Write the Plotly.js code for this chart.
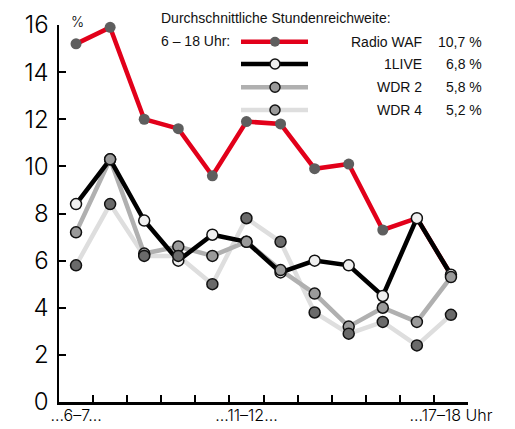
<!DOCTYPE html>
<html><head><meta charset="utf-8">
<script src="https://cdn.plot.ly/plotly-3.0.1.min.js"></script>
<style>html,body{margin:0;padding:0;background:#fff}#chart{width:515px;height:429px}</style>
</head><body><div id="chart"></div>
<script>
var hours = [0,1,2,3,4,5,6,7,8,9,10,11];
var tickLabels = ["...6–7...", "...11–12...", "...17–18 Uhr"];
var tickLabelPos = [0, 5, 11];
var radioWAF = [15.2, 15.9, 12.0, 11.6, 9.6, 11.9, 11.8, 9.9, 10.1, 7.3, 7.8, 5.4];
var einsLive = [8.4, 10.3, 7.7, 6.0, 7.1, 6.8, 5.5, 6.0, 5.8, 4.5, 7.8, 5.4];
var wdr2 = [7.2, 10.3, 6.3, 6.6, 6.2, 6.8, 5.6, 4.6, 3.2, 4.0, 3.4, 5.3];
var wdr4 = [5.8, 8.4, 6.2, 6.2, 5.0, 7.8, 6.8, 3.8, 2.9, 3.4, 2.4, 3.7];
var seriesNames = ["Radio WAF", "1LIVE", "WDR 2", "WDR 4"];
var seriesAvg = ["10,7 %", "6,8 %", "5,8 %", "5,2 %"];

var FONT = "Liberation Sans Narrow, Liberation Sans, Arial, sans-serif";
var TICKFONT = "Inter, DejaVu Sans, sans-serif";
var lineColors = ["#e2001a", "#000000", "#b0b0b0", "#dedede"];
var markerColors = ["#5e5e5e", "#f0f0f0", "#9a9a9a", "#6a6a6a"];
var markerLine = [0, 1.5, 1.5, 1.5];
var data = [radioWAF, einsLive, wdr2, wdr4];

var traces = [];
var lineOrder = [3, 2, 0, 1];
lineOrder.forEach(function(i){
  traces.push({x: hours, y: data[i], type: "scatter", mode: "lines", cliponaxis: false,
    line: {color: lineColors[i], width: 4.5}, hoverinfo: "skip", showlegend: false});
});
var markOrder = [0, 1, 2, 3];
markOrder.forEach(function(i){
  traces.push({x: hours, y: data[i], type: "scatter", mode: "markers", cliponaxis: false,
    marker: {color: markerColors[i], size: 11, line: {color: "#111", width: markerLine[i]}},
    showlegend: false});
});
traces.push({x: tickLabelPos, y: [null,null,null], xaxis: "x2", type: "scatter", mode: "markers", showlegend: false, hoverinfo: "skip"});

var L = 59, R = 468, T = 25, B = 402;
function px(x){ return (x - L) / (R - L); }
function py(y){ return (B - y) / (B - T); }

var annotations = [
  {xref: "paper", yref: "paper", x: px(69), y: py(22), text: "%", showarrow: false, xanchor: "left", yanchor: "middle", font: {family: TICKFONT, size: 14, color: "#000", weight: 300}},
  {xref: "paper", yref: "paper", x: px(159), y: py(18), text: "Durchschnittliche Stundenreichweite:", showarrow: false, xanchor: "left", yanchor: "middle", font: {family: FONT, size: 14, color: "#111"}},
  {xref: "paper", yref: "paper", x: px(159), y: py(41.5), text: "6 – 18 Uhr:", showarrow: false, xanchor: "left", yanchor: "middle", font: {family: FONT, size: 14, color: "#111"}}
];
var shapes = [];
var legY = [41.7, 64, 87.3, 110];
for (var i = 0; i < 4; i++) {
  annotations.push({xref: "paper", yref: "paper", x: px(424), y: py(legY[i]), text: seriesNames[i], showarrow: false, xanchor: "right", yanchor: "middle", font: {family: FONT, size: 14, color: "#111"}});
  annotations.push({xref: "paper", yref: "paper", x: px(484), y: py(legY[i]), text: seriesAvg[i], showarrow: false, xanchor: "right", yanchor: "middle", font: {family: FONT, size: 14, color: "#111"}});
  shapes.push({type: "line", xref: "paper", yref: "paper", x0: px(241), x1: px(308), y0: py(legY[i]), y1: py(legY[i]), line: {color: lineColors[i], width: 4.5}});
  shapes.push({type: "circle", xref: "paper", yref: "paper", x0: px(270), x1: px(280), y0: py(legY[i] + 5), y1: py(legY[i] - 5),
    fillcolor: i === 3 ? "#9a9a9a" : markerColors[i], line: {color: "#111", width: markerLine[i]}});
}

var layout = {
  width: 515, height: 429,
  margin: {l: L, r: 515 - R, t: T, b: 429 - B},
  paper_bgcolor: "#fff", plot_bgcolor: "#fff",
  showlegend: false,
  xaxis: {range: [-0.5, 11.5], tickmode: "array",
    tickvals: [-0.5,0.5,1.5,2.5,3.5,4.5,5.5,6.5,7.5,8.5,9.5,10.5,11.5],
    ticktext: ["","","","","","","","","","","","",""],
    ticks: "inside", ticklen: 7, tickwidth: 2, tickcolor: "#000",
    showline: true, linecolor: "#000", linewidth: 2.5, showgrid: false, zeroline: false, fixedrange: true},
  xaxis2: {range: [-0.5, 11.5], overlaying: "x", side: "bottom", tickmode: "array",
    tickvals: tickLabelPos, ticktext: tickLabels, ticks: "", showline: false, showgrid: false, zeroline: false,
    tickfont: {family: TICKFONT, size: 16, color: "#000", weight: 300}, ticklabelstandoff: 2},
  yaxis: {range: [0, 16], dtick: 2, ticks: "inside", ticklen: 7, tickwidth: 2, tickcolor: "#000",
    showline: true, linecolor: "#000", linewidth: 2.5, showgrid: false, zeroline: false,
    tickfont: {family: TICKFONT, size: 24, color: "#000", weight: 300}, ticklabelstandoff: 3, fixedrange: true},
  annotations: annotations,
  shapes: shapes
};
Plotly.newPlot("chart", traces, layout, {displayModeBar: false, staticPlot: true});
</script></body></html>
